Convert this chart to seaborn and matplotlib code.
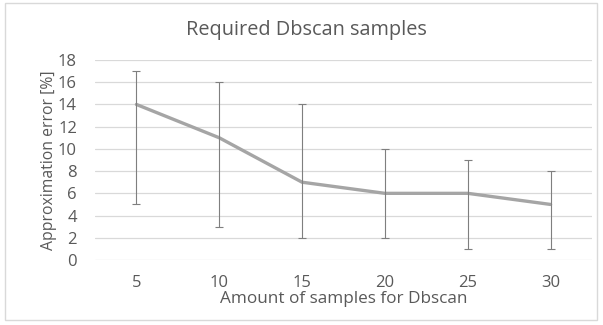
import matplotlib
matplotlib.use("Agg")
import matplotlib.pyplot as plt
import numpy as np
import seaborn as sns
from matplotlib.patches import Rectangle

# data
samples = ["5", "10", "15", "20", "25", "30"]
error = [14, 11, 7, 6, 6, 5]
err_low = [5, 3, 2, 2, 1, 1]
err_high = [17, 16, 14, 10, 9, 8]

sns.set_style("white")
plt.rcParams['font.family'] = ['Open Sans', 'DejaVu Sans']

fig = plt.figure(figsize=(6.03, 3.25), dpi=100)
ax = fig.add_axes([95 / 603, 1 - 260 / 325, 497 / 603, 200 / 325])

pos = np.arange(len(samples))
sns.lineplot(x=pos, y=error, ax=ax, color="#a5a5a5", linewidth=2.4)

yerr = [np.array(error) - np.array(err_low), np.array(err_high) - np.array(error)]
ax.errorbar(pos, error, yerr=yerr, fmt="none", ecolor="#7f7f7f",
            elinewidth=0.8, capsize=2.9, capthick=0.8)

ax.set_xlim(-0.5, len(samples) - 0.5)
ax.set_ylim(0, 18)
ax.set_yticks(range(0, 19, 2))
ax.set_xticks(pos)
ax.set_xticklabels(samples)
ax.yaxis.grid(True, color="#d9d9d9", linewidth=0.9)
ax.set_axisbelow(True)
for s in ax.spines.values():
    s.set_visible(False)
ax.tick_params(axis="both", length=0, labelsize=12, labelcolor="#595959")
ax.tick_params(axis="x", pad=11)
ax.tick_params(axis="y", pad=13)

ax.set_xlabel("Amount of samples for Dbscan", fontsize=12.3, color="#595959", labelpad=0)
ax.set_ylabel("Approximation error [%]", fontsize=11.3, color="#595959", labelpad=1)
fig.text(306 / 603, 1 - 35 / 325, "Required Dbscan samples",
         ha="center", va="baseline", fontsize=14.3, color="#595959")

# outer chart border
fig.patches.append(Rectangle((5 / 603, 1 - 320 / 325), 592 / 603, 317 / 325,
                             transform=fig.transFigure, fill=False,
                             edgecolor="#d9d9d9", linewidth=1))

fig.savefig("out.png", dpi=100)
